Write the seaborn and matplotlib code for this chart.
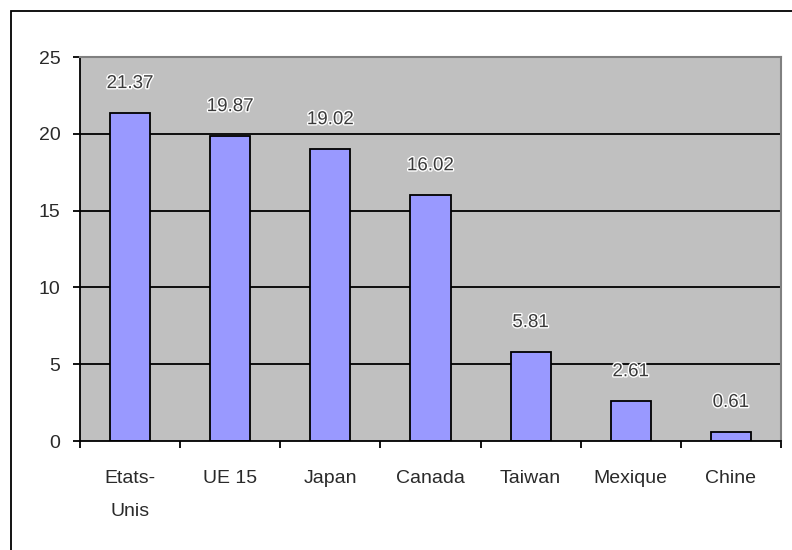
import matplotlib
matplotlib.use("Agg")
import matplotlib.pyplot as plt
import matplotlib.patheffects as pe
from matplotlib.patches import Rectangle
import seaborn as sns
import pandas as pd

countries = ["Etats-\nUnis", "UE 15", "Japan", "Canada", "Taiwan", "Mexique", "Chine"]
values = [21.37, 19.87, 19.02, 16.02, 5.81, 2.61, 0.61]
value_labels = ["21.37", "19.87", "19.02", "16.02", "5.81", "2.61", "0.61"]
y_ticks = [0, 5, 10, 15, 20, 25]

df = pd.DataFrame({"pays": countries, "valeur": values})

sns.set_theme(style="white")
plt.rcParams["font.family"] = ["Liberation Sans", "DejaVu Sans"]

W, H = 792, 550
fig = plt.figure(figsize=(W / 100, H / 100), dpi=100)
ax = fig.add_axes([80 / W, 1 - 441 / H, (781 - 80) / W, (441 - 57) / H])
ax.set_facecolor("#C0C0C0")

# outer chart frame (only top and left edges fall inside the canvas)
fig.patches.append(Rectangle((11 / W, -0.1), 1.2, 1 - 11 / H + 0.1,
                             transform=fig.transFigure, fill=False,
                             edgecolor="black", linewidth=1.3, zorder=0))

# horizontal gridlines
for t in y_ticks[1:-1]:
    ax.axhline(t, color="black", linewidth=1.3, zorder=1)

sns.barplot(data=df, x="pays", y="valeur", color="#9999FF", saturation=1,
            width=0.4, edgecolor="black", linewidth=1.3, ax=ax, zorder=2)

ax.set_ylim(0, 25)
ax.set_xlim(-0.5, len(countries) - 0.5)
ax.set_yticks(y_ticks)
ax.set_xlabel("")
ax.set_ylabel("")

# category boundary ticks
ax.set_xticks([i - 0.5 for i in range(len(countries) + 1)], minor=True)
ax.tick_params(axis="x", which="minor", length=5, width=1.3, color="black",
               direction="out", bottom=True)
ax.tick_params(axis="x", which="major", length=0, pad=21, labelsize=14,
               labelcolor="#2a2a2a")
ax.tick_params(axis="y", length=5, width=1.3, color="black", direction="out",
               left=True, pad=9, labelsize=14, labelcolor="#2a2a2a")
for lbl in ax.get_xticklabels():
    lbl.set_linespacing(2.2)
    lbl.set_verticalalignment("top")

for side in ["left", "bottom"]:
    ax.spines[side].set_color("black")
    ax.spines[side].set_linewidth(1.3)
for side in ["top", "right"]:
    ax.spines[side].set_color("#808080")
    ax.spines[side].set_linewidth(1.5)

for i, (v, s) in enumerate(zip(values, value_labels)):
    ax.annotate(s, (i, v), xytext=(0, 21), textcoords="offset points",
                ha="center", va="center", fontsize=13.5, color="#3a3a3a",
                zorder=5,
                path_effects=[pe.withStroke(linewidth=2, foreground="white")])

fig.savefig("out.png", dpi=100, facecolor="white")
